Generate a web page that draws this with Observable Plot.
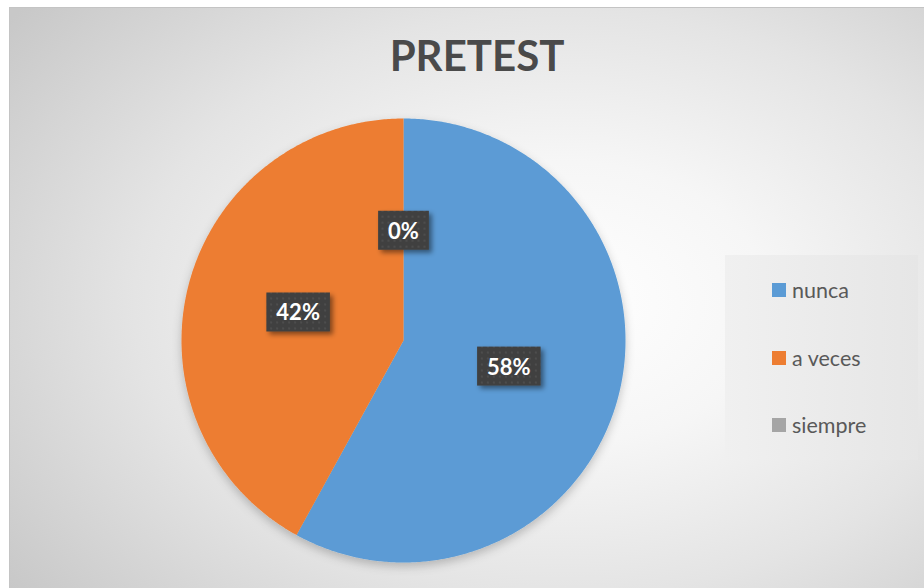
<!DOCTYPE html>
<html>
<head>
<meta charset="utf-8">
<script src="https://cdn.jsdelivr.net/npm/d3@7"></script>
<script src="https://cdn.jsdelivr.net/npm/@observablehq/plot@0.6"></script>
<style>
  html, body { margin: 0; padding: 0; background: #ffffff; }
  #wrap { position: relative; width: 924px; height: 588px; overflow: hidden; background: #ffffff; font-family: Lato, "Open Sans", sans-serif; }
  #frame { position: absolute; left: 9px; top: 7px; width: 920px; height: 590px; border-left: 1.5px solid #c4c4c4; border-top: 1.5px solid #c4c4c4;
    background: radial-gradient(ellipse 75% 80% at 60% 50%, #ffffff 0%, #f6f6f6 30%, #e4e4e4 62%, #c8c8c8 100%); }
  #title { position: absolute; left: 0; width: 954px; top: 30px; text-align: center; font-weight: bold; font-size: 42px; color: #4a4a4a; font-family: Lato, sans-serif; }
  #legend { position: absolute; left: 725px; top: 255px; width: 193px; height: 205px; background: linear-gradient(to right, #f0f0f0, #e6e6e6); }
  .item { position: absolute; left: 47px; height: 24px; display: flex; align-items: center; font-size: 21.5px; color: #595959; }
  .sw { width: 14px; height: 14px; margin-right: 6px; }
  #chart { position: absolute; left: 0; top: 0; }
</style>
</head>
<body>
<div id="wrap">
  <div id="frame"></div>
  <div id="title"></div>
  <div id="legend"></div>
  <div id="chart"></div>
</div>
<script>
const title = "PRETEST";
const categories = ["nunca", "a veces", "siempre"];
const values = [58, 42, 0];
const colors = ["#5B9BD5", "#ED7D31", "#A5A5A5"];

document.getElementById("title").textContent = title;

// legend
const legend = document.getElementById("legend");
categories.forEach((c, i) => {
  const it = document.createElement("div");
  it.className = "item";
  it.style.top = (23 + i * 67.5) + "px";
  const sw = document.createElement("div");
  sw.className = "sw";
  sw.style.background = colors[i];
  const tx = document.createElement("span");
  tx.textContent = c;
  it.appendChild(sw); it.appendChild(tx);
  legend.appendChild(it);
});

// slices (clockwise from top)
const total = d3.sum(values);
const points = [];
const labels = [];
let acc = 0;
values.forEach((v, i) => {
  const a0 = acc / total * 2 * Math.PI;
  const a1 = (acc + v) / total * 2 * Math.PI;
  if (v > 0) {
    points.push({x: 0, y: 0, cat: categories[i]});
    const n = Math.max(2, Math.ceil((a1 - a0) / (Math.PI / 360)));
    for (let k = 0; k <= n; k++) {
      const a = a0 + (a1 - a0) * k / n;
      points.push({x: Math.sin(a), y: Math.cos(a), cat: categories[i]});
    }
  }
  const mid = (a0 + a1) / 2;
  labels.push({x: 0.49 * Math.sin(mid), y: 0.49 * Math.cos(mid), text: Math.round(v / total * 100) + "%"});
  acc += v;
});

const plot = Plot.plot({
  width: 924,
  height: 588,
  margin: 0,
  style: {background: "transparent", overflow: "visible"},
  x: {domain: [-1, 1], range: [181, 625], axis: null},
  y: {domain: [1, -1], range: [118, 562], axis: null},
  color: {domain: categories, range: colors},
  marks: [
    Plot.line(points, {x: "x", y: "y", z: "cat", fill: "cat", stroke: null, curve: "linear"}),
    Plot.text(labels, {x: "x", y: "y", text: "text", fill: "white", fontSize: 22, fontWeight: "bold", fontFamily: "Lato, sans-serif"})
  ]
});
document.getElementById("chart").appendChild(plot);

// decorations: shadows, label boxes
const svg = d3.select(plot);
const defs = svg.insert("defs", ":first-child");
const pf = defs.append("filter").attr("id", "pieShadow").attr("x", "-10%").attr("y", "-10%").attr("width", "120%").attr("height", "125%");
pf.append("feDropShadow").attr("dx", 0).attr("dy", 4).attr("stdDeviation", 5).attr("flood-color", "#000").attr("flood-opacity", 0.22);
const lf = defs.append("filter").attr("id", "lblShadow").attr("x", "-20%").attr("y", "-20%").attr("width", "150%").attr("height", "160%");
lf.append("feDropShadow").attr("dx", 3).attr("dy", 3).attr("stdDeviation", 2.5).attr("flood-color", "#000").attr("flood-opacity", 0.45);
const pat = defs.append("pattern").attr("id", "dots").attr("patternUnits", "userSpaceOnUse").attr("width", 6).attr("height", 6);
pat.append("rect").attr("width", 6).attr("height", 6).attr("fill", "#404040");
pat.append("rect").attr("x", 2).attr("y", 2).attr("width", 2).attr("height", 2).attr("fill", "#4d4d4d");

svg.select('g[aria-label="line"]').attr("filter", "url(#pieShadow)");
svg.selectAll('g[aria-label="text"] text').each(function() {
  const b = this.getBBox();
  const g = this.parentNode;
  d3.select(g).insert("rect", () => this)
    .attr("transform", this.getAttribute("transform"))
    .attr("x", b.x - 10).attr("y", b.y - 6)
    .attr("width", b.width + 20).attr("height", b.height + 12)
    .attr("fill", "url(#dots)")
    .attr("filter", "url(#lblShadow)");
});
</script>
</body>
</html>
